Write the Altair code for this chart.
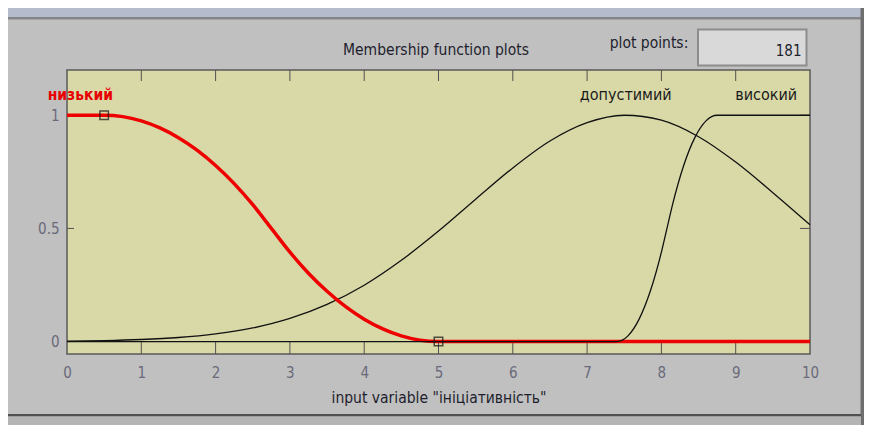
import altair as alt
import pandas as pd

FONT = "DejaVu Sans Condensed, Liberation Sans Narrow, Arial Narrow, sans-serif"

# ---- membership functions ----
low_x = [0, 0.25, 0.5, 0.75, 1, 1.25, 1.5, 1.75, 2, 2.25, 2.5, 2.75, 3, 3.25, 3.5,
         3.75, 4, 4.25, 4.5, 4.75, 5, 6, 7, 8, 9, 10]
low_y = [1, 1, 1, 0.994, 0.975, 0.944, 0.901, 0.846, 0.778, 0.698, 0.605, 0.5, 0.395,
         0.302, 0.222, 0.154, 0.099, 0.056, 0.025, 0.006, 0, 0, 0, 0, 0, 0]

mid_x = [0, 0.5, 1, 1.5, 2, 2.5, 3, 3.5, 4, 4.5, 5, 5.5, 6, 6.5, 7, 7.5, 8, 8.5, 9, 9.5, 10]
mid_y = [0.002, 0.004, 0.009, 0.018, 0.034, 0.060, 0.102, 0.164, 0.249, 0.359, 0.488,
         0.629, 0.767, 0.886, 0.967, 1.0, 0.978, 0.905, 0.793, 0.658, 0.516]

high_x = [0, 7.4, 7.55, 7.7, 7.85, 8.0, 8.075, 8.15, 8.3, 8.45, 8.6, 8.75, 10]
high_y = [0, 0, 0.025, 0.099, 0.222, 0.395, 0.5, 0.605, 0.778, 0.901, 0.975, 1, 1]

marker_x = [0.5, 5]
marker_y = [1, 0]

mf_names = ["низький", "допустимий", "високий"]
mf_label_x = [0.18, 7.52, 9.41]
mf_label_y = [1.068, 1.068, 1.068]
mf_label_color = ["#e80000", "#1a1a1a", "#1a1a1a"]

x_ticks = [0, 1, 2, 3, 4, 5, 6, 7, 8, 9, 10]
y_ticks = [0, 0.5, 1]

W, H = 743, 284
PL, PT = 59, 62
TOTAL_W, TOTAL_H = 856, 417
OX, OY = 8 + PL, 8 + PT  # page position of plot origin

XS = alt.Scale(domain=[0, 10], nice=False, zero=False)
YS = alt.Scale(domain=[-0.055, 1.2], nice=False, zero=False)

X_AX = alt.Axis(values=x_ticks, format="d", ticks=False, tickSize=0, domain=False, grid=False,
                labelFont=FONT, labelFontSize=15, labelColor="#6a6a7a", labelPadding=11,
                labelFlush=False, labelOverlap=False,
                title='input variable "ініціативність"', titleFont=FONT, titleFontSize=15.5,
                titleFontWeight="normal", titleColor="#1e1e2e", titlePadding=10)
Y_AX = alt.Axis(values=y_ticks, format="~g", ticks=False, tickSize=0, domain=False, grid=False,
                labelFont=FONT, labelFontSize=15, labelColor="#6a6a7a", labelPadding=8,
                labelFlush=False, labelOverlap=False, title=None)

one = pd.DataFrame({"a": [0]})


def box(x1, y1, x2, y2, fill, stroke=None, sw=1):
    kw = dict(fill=fill)
    if stroke:
        kw.update(stroke=stroke, strokeWidth=sw)
    else:
        kw.update(strokeWidth=0)
    return alt.Chart(one).mark_rect(**kw).encode(
        x=alt.value(x1 - OX), x2=alt.value(x2 - OX),
        y=alt.value(y1 - OY), y2=alt.value(y2 - OY))


def label(text, x, y, size, color, align="center", weight="normal"):
    return alt.Chart(one).mark_text(font=FONT, fontSize=size, color=color, align=align,
                                    baseline="alphabetic", fontWeight=weight).encode(
        x=alt.value(x - OX), y=alt.value(y - OY), text=alt.value(text))


decor = [
    box(8, 8, 861, 17, "#b5bdcd"),
    box(8, 17, 861, 19.5, "#858585"),
    box(860.5, 8, 864, 433, "#6e6e6e"),
    box(8, 414, 861, 416.5, "#505050"),
    box(8, 416.5, 861, 433, "#b4b4b4"),
    box(8, 427, 203, 440, "#c4c4c4", "#555555", 1),
    box(213, 427, 851, 440, "#c4c4c4", "#555555", 1),
    label("Membership function plots", 436, 55, 15.5, "#1e1e2e"),
    label("plot points:", 649, 48, 15.5, "#1e1e2e"),
    box(698, 29.5, 806.5, 65.5, "#d9d9d9", "#8c8c8c", 2),
    label("181", 801.5, 56, 15, "#1e1e2e", align="right"),
]


def line(xs, ys, color, width):
    df = pd.DataFrame({"x": xs, "y": ys})
    return alt.Chart(df).mark_line(color=color, strokeWidth=width, interpolate="monotone").encode(
        x=alt.X("x:Q", scale=XS, axis=X_AX), y=alt.Y("y:Q", scale=YS, axis=Y_AX))


low = line(low_x, low_y, "#ee0000", 3.5)
mid = line(mid_x, mid_y, "#111111", 1.3)
high = line(high_x, high_y, "#111111", 1.3)

markers = alt.Chart(pd.DataFrame({"x": marker_x, "y": marker_y})).mark_point(
    shape="square", size=72, filled=False, color="#111111", strokeWidth=1.5).encode(
    x=alt.X("x:Q", scale=XS, axis=X_AX), y=alt.Y("y:Q", scale=YS, axis=Y_AX))

xt = pd.DataFrame({"x": x_ticks[1:-1]})
xtick_bottom = alt.Chart(xt).mark_rule(color="#505050", strokeWidth=1).encode(
    x=alt.X("x:Q", scale=XS, axis=X_AX), y=alt.value(H), y2=alt.value(H - 12))
xtick_top = alt.Chart(xt).mark_rule(color="#505050", strokeWidth=1).encode(
    x=alt.X("x:Q", scale=XS, axis=X_AX), y=alt.value(0), y2=alt.value(11))

yt = pd.DataFrame({"y": y_ticks})
ytick_left = alt.Chart(yt).mark_rule(color="#505050", strokeWidth=1).encode(
    y=alt.Y("y:Q", scale=YS, axis=Y_AX), x=alt.value(0), x2=alt.value(7))
ytick_right = alt.Chart(yt).mark_rule(color="#505050", strokeWidth=1).encode(
    y=alt.Y("y:Q", scale=YS, axis=Y_AX), x=alt.value(W - 10), x2=alt.value(W))

lab_df = pd.DataFrame({"x": mf_label_x, "y": mf_label_y, "name": mf_names, "c": mf_label_color})
mf_low_label = alt.Chart(lab_df.iloc[[0]]).mark_text(
    font=FONT, fontSize=15.5, fontWeight="bold", baseline="alphabetic").encode(
    x=alt.X("x:Q", scale=XS, axis=X_AX), y=alt.Y("y:Q", scale=YS, axis=Y_AX),
    text="name:N", color=alt.Color("c:N", scale=None))
mf_other_labels = alt.Chart(lab_df.iloc[1:]).mark_text(
    font=FONT, fontSize=16, fontWeight="normal", baseline="alphabetic").encode(
    x=alt.X("x:Q", scale=XS, axis=X_AX), y=alt.Y("y:Q", scale=YS, axis=Y_AX),
    text="name:N", color=alt.Color("c:N", scale=None))

chart = alt.layer(
    *decor,
    xtick_bottom, xtick_top, ytick_left, ytick_right,
    mid, low, high, markers,
    mf_low_label, mf_other_labels,
).properties(
    width=W, height=H,
    autosize=alt.AutoSizeParams(type="none"),
    padding={"left": PL, "top": PT, "right": TOTAL_W - PL - W, "bottom": TOTAL_H - PT - H},
    background="#c0c0c0",
).configure_view(
    fill="#d9d9a8", stroke="#5a5a5a", strokeWidth=1.5
)

chart.save("out.html", embed_options={"renderer": "svg", "actions": False})
